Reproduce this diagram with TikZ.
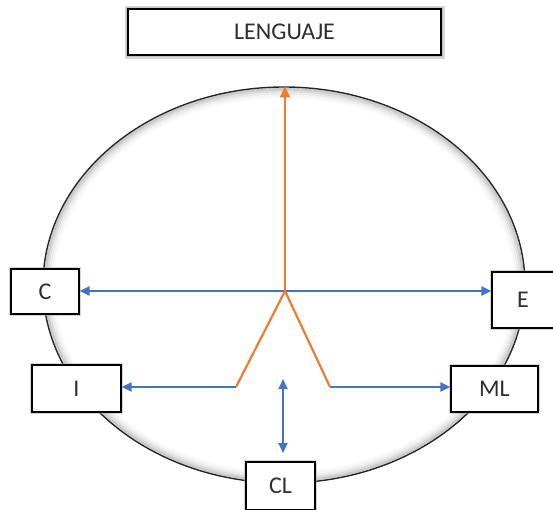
\documentclass[tikz,border=0pt]{standalone}
\usepackage{fontspec}
\setmainfont{Carlito}
\usetikzlibrary{arrows.meta,shapes.geometric}
\definecolor{oorange}{HTML}{ED7D31}
\definecolor{oblue}{HTML}{4472C4}
\definecolor{txt}{HTML}{2E2E2E}
\begin{document}
\begin{tikzpicture}[x=1pt,y=-1pt,
  box/.style={draw=black, line width=1.2pt, fill=white, inner sep=0pt,
    font=\fontsize{24}{26}\selectfont, text=txt,
    preaction={draw=gray!70, line width=3.5pt, opacity=.45}},
  titlebox/.style={box, line width=1.5pt,
    preaction={draw=gray!60, line width=7pt, opacity=.5}},
  bluearrow/.style={draw=oblue, line width=2pt, -{Triangle[length=10pt,width=9pt]}},
  bluedouble/.style={draw=oblue, line width=2pt, {Triangle[length=10pt,width=9pt]}-{Triangle[length=10pt,width=9pt]}},
  orangeline/.style={draw=oorange, line width=2.2pt},
  orangearrow/.style={orangeline, -{Triangle[length=11pt,width=10pt]}}
]
\useasboundingbox (0,0) rectangle (553,509);
\fill[white] (0,0) rectangle (553,509);
% ellipse with soft inner shading
\foreach \d/\o in {2/0.4,4/0.26,6/0.15,8/0.08,10/0.04}{
  \draw[gray, line width=2.2pt, opacity=\o] (284,285) ellipse ({241-\d} and {198-\d});
}
\node[ellipse, draw=black!85, line width=1.4pt, minimum width=482pt, minimum height=396pt, inner sep=0pt] (ell) at (284,285) {};

% boxes
\node[titlebox, minimum width=313pt, minimum height=46pt] (lang) at (284.5,32) {LENGUAJE};
\node[box, minimum width=68pt, minimum height=45pt] (c) at (45,291.5) {C};
\node[box, minimum width=89pt, minimum height=47pt] (i) at (76.5,388.5) {I};
\node[box, minimum width=62pt, minimum height=56pt] (e) at (523,300) {E};
\node[box, minimum width=87pt, minimum height=46pt] (ml) at (494.5,389) {ML};
\node[box, minimum width=69pt, minimum height=48pt] (cl) at (280.5,486) {CL};

% coordinates
\coordinate (o) at (285,291);
\coordinate (vl) at (236,387);
\coordinate (vr) at (330,387);
\coordinate (a1) at (283,379);
\coordinate (a2) at (283,453);
\coordinate (etarget) at (e.west |- o);

% connectors
\draw[bluedouble] (c.east |- o) -- (etarget);
\draw[orangearrow] (o) -- (o |- ell.north);
\draw[orangeline] (vl) -- (o) -- (vr);
\draw[bluearrow] (vl) -- (i.east |- vl);
\draw[bluearrow] (vr) -- (ml.west |- vr);
\draw[bluedouble] (a1) -- (a2);
\end{tikzpicture}
\end{document}
